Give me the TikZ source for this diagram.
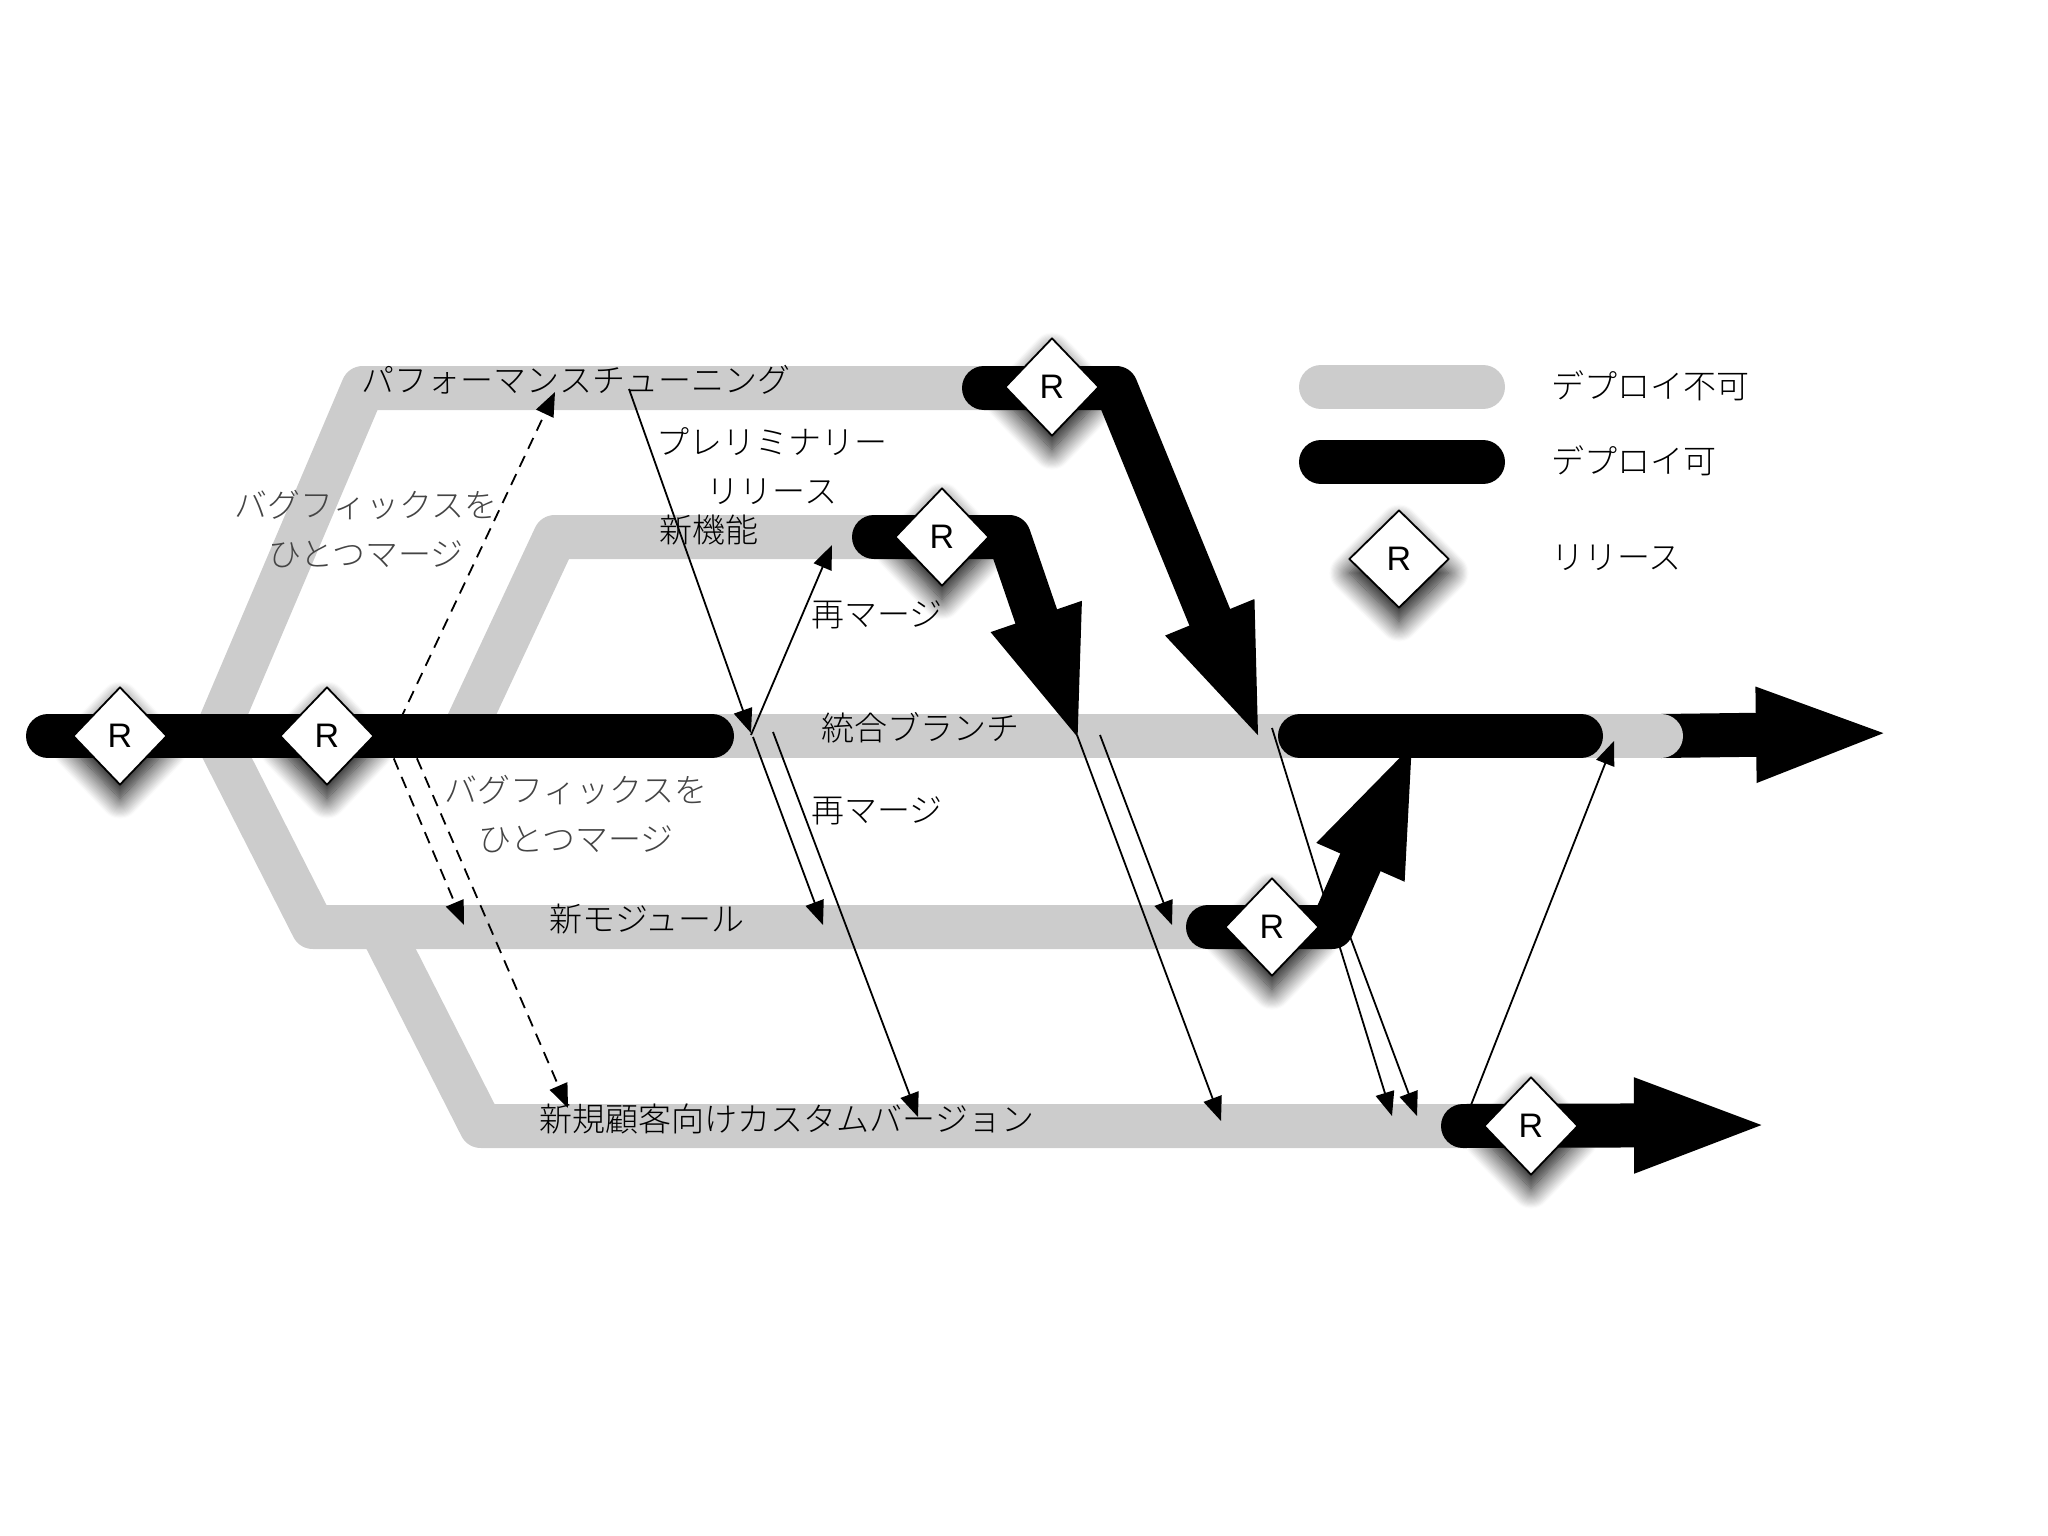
\documentclass[tikz,border=0pt]{standalone}
\usepackage{fontspec}
\setmainfont{Noto Sans CJK JP Light}
\newfontfamily\rfont{Liberation Sans}
\usetikzlibrary{arrows.meta, shapes.geometric, shadows.blur}
\definecolor{nodeploy}{HTML}{CCCCCC}
\definecolor{notegray}{HTML}{444444}

\begin{document}
\begin{tikzpicture}[x=1pt,y=-1pt,line join=round]
    \tikzstyle{every node}=[font=\fontsize{33}{49}\selectfont]
    \tikzstyle{stream}=[line width=44pt, line cap=round]
    \tikzstyle{grey stream}=[stream, draw=nodeploy]
    \tikzstyle{black stream}=[stream, draw=black]
    \tikzstyle{black arrow}=[black stream, -{Triangle[length=138pt,width=84pt]}]
    \tikzstyle{merge}=[line width=1.8pt, draw=black, -{Triangle[length=24pt,width=19pt]}]
    \tikzstyle{bugfix}=[merge, dash pattern=on 12pt off 8pt]
    \tikzstyle{release}=[diamond, aspect=1, fill=white, draw=black, line width=1.8pt, inner sep=0pt,
        minimum width=94pt, minimum height=98pt, font=\rfont\fontsize{34}{34}\selectfont,
        blur shadow={shadow xshift=0pt, shadow yshift=-14pt, shadow blur radius=20pt, shadow blur steps=18, shadow opacity=100}]
    \tikzstyle{note}=[text=notegray, align=center]
    \useasboundingbox (0,0) rectangle (2048,1536);

    % branches
    \coordinate (M-0) at (48,736);
    \coordinate (M-1) at (712,736);
    \coordinate (M-2) at (1300,736);
    \coordinate (M-3) at (1581,736);
    \coordinate (M-4) at (1661,736);
    \coordinate (M-5) at (1894,733);
    \coordinate (P-0) at (215,736);
    \coordinate (P-1) at (363,388);
    \coordinate (P-2) at (984,388);
    \coordinate (P-3) at (1116,388);
    \coordinate (P-4) at (1262,745);
    \coordinate (F-0) at (462,736);
    \coordinate (F-1) at (555,537);
    \coordinate (F-2) at (874,537);
    \coordinate (F-3) at (1009,537);
    \coordinate (F-4) at (1081,747);
    \coordinate (N-0) at (216,736);
    \coordinate (N-1) at (313,927);
    \coordinate (N-2) at (380,927);
    \coordinate (N-3) at (1208,927);
    \coordinate (N-4) at (1332,927);
    \coordinate (N-5) at (1416,736);
    \coordinate (C-1) at (481,1126);
    \coordinate (C-2) at (1463,1126);
    \coordinate (C-3) at (1772,1125);

    \draw[black arrow] (M-4) -- (M-5);
    \draw[grey stream] (M-1) -- (M-4);
    \draw[grey stream] (P-0) -- (P-1) -- (P-2);
    \draw[grey stream] (F-0) -- (F-1) -- (F-2);
    \draw[grey stream] (N-0) -- (N-1) -- (N-3);
    \draw[grey stream] (N-2) -- (C-1) -- (C-2);

    % merges
    \foreach \n/\xa/\ya/\xb/\yb in {0/629/389/751/733, 1/751/735/832/545, 2/753/737/823/925,
        3/773/732/918/1117, 4/1077/735/1221/1121, 5/1100/735/1172/925, 6/1272/728/1392/1116,
        7/1342/915/1417/1116, 8/1471/1105/1614/741}{
        \coordinate (A-\n) at (\xa,\ya);
        \coordinate (B-\n) at (\xb,\yb);
        \draw[merge] (A-\n) -- (B-\n);
    }
    \foreach \n/\xa/\ya/\xb/\yb in {0/400/720/555/392, 1/386/740/464/925, 2/409/740/568/1108}{
        \coordinate (D-\n) at (\xa,\ya);
        \coordinate (E-\n) at (\xb,\yb);
        \draw[bugfix] (D-\n) -- (E-\n);
    }

    \draw[black stream] (M-0) -- (M-1);
    \draw[black stream] (M-2) -- (M-3);
    \draw[black arrow] (P-2) -- (P-3) -- (P-4);
    \draw[black arrow] (F-2) -- (F-3) -- (F-4);
    \draw[black arrow] (N-3) -- (N-4) -- (N-5);
    \draw[black arrow] (C-2) -- (C-3);

    \foreach \n/\x/\y in {0/120/736, 1/327/736, 2/1052/387, 3/942/537, 4/1272/927, 5/1531/1126}{
        \node[release] (R-\n) at (\x,\y) {R};
    }

    % labels
    \node (perf) at (576,380) {パフォーマンスチューニング};
    \node[align=center] (pre) at (772,466) {プレリミナリー\\リリース};
    \node (feat) at (709,530) {新機能};
    \node (again-0) at (877,615) {再マージ};
    \node (integ) at (920,728) {統合ブランチ};
    \node (again-1) at (877,811) {再マージ};
    \node (mod) at (647,919) {新モジュール};
    \node (cust) at (787,1119) {新規顧客向けカスタムバージョン};
    \node[note] (fix-0) at (366,529) {バグフィックスを\\ひとつマージ};
    \node[note] (fix-1) at (576,814) {バグフィックスを\\ひとつマージ};

    % legend
    \coordinate (L-0) at (1321,387);
    \coordinate (L-1) at (1483,387);
    \coordinate (L-2) at (1321,462);
    \coordinate (L-3) at (1483,462);
    \draw[grey stream] (L-0) -- (L-1);
    \draw[black stream] (L-2) -- (L-3);
    \node[release, minimum width=100pt] (R-6) at (1399,559) {R};
    \node[anchor=west] (key-0) at (1548,386) {デプロイ不可};
    \node[anchor=west] (key-1) at (1548,461) {デプロイ可};
    \node[anchor=west] (key-2) at (1548,558) {リリース};
\end{tikzpicture}
\end{document}
